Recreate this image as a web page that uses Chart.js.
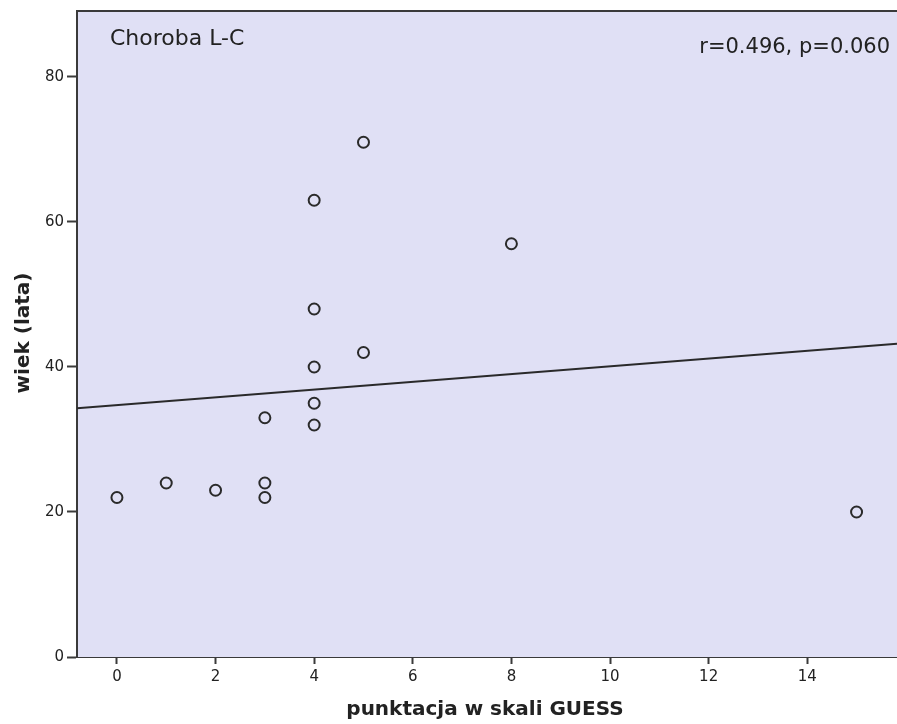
<!DOCTYPE html>
<html>
<head>
<meta charset="utf-8">
<script src="https://cdn.jsdelivr.net/npm/chart.js@4/dist/chart.umd.min.js"></script>
<style>
  html, body { margin: 0; padding: 0; background: #fff; }
  #wrap { width: 897px; height: 724px; }
</style>
</head>
<body>
<div id="wrap"><canvas id="scatter" width="897" height="724"></canvas></div>
<script>
// GUESS score vs age, L-C disease group
const guessScore = [0, 1, 2, 3, 3, 3, 4, 4, 4, 4, 4, 5, 5, 8, 15];
const ageYears   = [22, 24, 23, 22, 24, 33, 32, 35, 40, 48, 63, 42, 71, 57, 20];
const xTickValues = [0, 2, 4, 6, 8, 10, 12, 14];
const yTickValues = [0, 20, 40, 60, 80];
const xRange = [-0.81, 15.82];
const yRange = [0, 89.1];
const groupLabel = 'Choroba L-C';
const statsLabel = 'r=0.496, p=0.060';
const xTitle = 'punktacja w skali GUESS';
const yTitle = 'wiek (lata)';

// least squares fit line
function linearFit(xs, ys) {
    const n = xs.length;
    const mx = xs.reduce((a, b) => a + b, 0) / n;
    const my = ys.reduce((a, b) => a + b, 0) / n;
    let sxy = 0, sxx = 0;
    for (let i = 0; i < n; i++) {
        sxy += (xs[i] - mx) * (ys[i] - my);
        sxx += (xs[i] - mx) * (xs[i] - mx);
    }
    const slope = sxy / sxx;
    return { slope: slope, intercept: my - slope * mx };
}
const fit = linearFit(guessScore, ageYears);
const fitPoints = xRange.map(x => ({ x: x, y: fit.intercept + fit.slope * x }));
const points = guessScore.map((x, i) => ({ x: x, y: ageYears[i] }));

const FONT = '"DejaVu Sans", Verdana, sans-serif';
const INK = '#222';

const plotDecor = {
    id: 'plotDecor',
    beforeDatasetsDraw(chart) {
        const a = chart.chartArea;
        const ctx = chart.ctx;
        ctx.save();
        ctx.fillStyle = '#e0e0f5';
        ctx.fillRect(a.left, a.top, a.right - a.left, a.bottom - a.top);
        ctx.strokeStyle = '#3a3a3a';
        ctx.lineWidth = 2;
        ctx.beginPath();
        ctx.moveTo(a.left, a.bottom);
        ctx.lineTo(a.left, a.top);
        ctx.lineTo(a.right, a.top);
        ctx.stroke();
        ctx.restore();
    },
    afterDraw(chart) {
        const ctx = chart.ctx;
        ctx.save();
        ctx.fillStyle = INK;
        ctx.textBaseline = 'middle';
        ctx.font = '22px ' + FONT;
        ctx.textAlign = 'left';
        ctx.fillText(groupLabel, 110, 39);
        ctx.font = '21px ' + FONT;
        ctx.textAlign = 'right';
        ctx.fillText(statsLabel, 890, 48);
        ctx.font = 'bold 20px ' + FONT;
        ctx.textAlign = 'center';
        ctx.fillText(xTitle, 485, 710);
        ctx.translate(24, 333);
        ctx.rotate(-Math.PI / 2);
        ctx.fillText(yTitle, 0, 0);
        ctx.restore();
    }
};

new Chart(document.getElementById('scatter').getContext('2d'), {
    type: 'scatter',
    data: {
        datasets: [{
            data: points,
            pointRadius: 5.5,
            pointHoverRadius: 5.5,
            pointBorderWidth: 2,
            pointBorderColor: '#2a2a2a',
            pointBackgroundColor: 'rgba(0,0,0,0)',
            showLine: false
        }, {
            type: 'line',
            data: fitPoints,
            borderColor: '#2a2a2a',
            borderWidth: 2,
            pointRadius: 0,
            fill: false
        }]
    },
    options: {
        responsive: false,
        animation: false,
        events: [],
        layout: { autoPadding: false, padding: { top: 11, right: 0, left: 0, bottom: 0 } },
        plugins: { legend: { display: false }, tooltip: { enabled: false } },
        scales: {
            x: {
                type: 'linear',
                min: xRange[0],
                max: xRange[1],
                afterBuildTicks(scale) { scale.ticks = xTickValues.map(v => ({ value: v })); },
                afterFit(scale) {
                    scale.height = 724 - 657;
                    scale.paddingLeft = 0;
                    scale.paddingRight = 0;
                },
                grid: { drawOnChartArea: false, tickLength: 7, tickWidth: 2, color: '#3a3a3a' },
                border: { display: true, color: '#3a3a3a', width: 2 },
                ticks: { color: INK, font: { family: FONT, size: 15 }, padding: 4, maxRotation: 0 }
            },
            y: {
                type: 'linear',
                min: yRange[0],
                max: yRange[1],
                afterBuildTicks(scale) { scale.ticks = yTickValues.map(v => ({ value: v })); },
                afterFit(scale) {
                    scale.width = 77;
                    scale.paddingTop = 0;
                    scale.paddingBottom = 0;
                },
                grid: { drawOnChartArea: false, tickLength: 10, tickWidth: 2, color: '#3a3a3a' },
                border: { display: true, color: '#3a3a3a', width: 2 },
                ticks: { color: INK, font: { family: FONT, size: 15 }, padding: 3 }
            }
        }
    },
    plugins: [plotDecor]
});
</script>
</body>
</html>
